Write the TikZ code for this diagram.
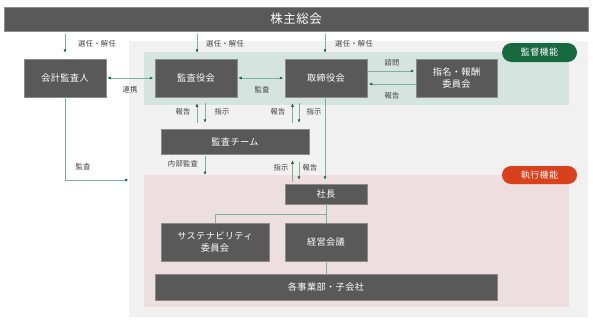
\documentclass[tikz,border=0pt]{standalone}
\usepackage{fontspec}
\setmainfont{Noto Sans CJK JP}[LetterSpace=4]
\usetikzlibrary{arrows.meta,calc}
\definecolor{boxgray}{HTML}{595959}
\definecolor{boxedge}{HTML}{8C8C8C}
\definecolor{linegreen}{HTML}{7FB09C}
\definecolor{tipgreen}{HTML}{1E6B4A}
\definecolor{regiongray}{HTML}{F1F1F1}
\definecolor{regiongreen}{HTML}{D6E4DF}
\definecolor{regionred}{HTML}{EDDEDF}
\definecolor{pillgreen}{HTML}{17693F}
\definecolor{pillred}{HTML}{D9401C}
\definecolor{labelgray}{HTML}{404040}
\tikzset{
  box/.style={fill=boxgray, draw=boxedge, line width=0.5pt, text=white,
    font=\fontsize{9.2}{12}\selectfont, inner sep=0pt, align=center,
    minimum width=82pt, minimum height=38pt},
  pill/.style={text=white, font=\fontsize{9}{11}\selectfont, inner sep=0pt,
    minimum width=75pt, minimum height=19pt, rounded corners=9.5pt},
  lbl/.style={text=labelgray, font=\fontsize{7.3}{8}\selectfont, inner sep=0pt},
  ln/.style={draw=linegreen, line width=0.8pt},
  arr/.style={ln, -{Latex[length=3.5pt,width=3.2pt,color=tipgreen]}},
  arrtwo/.style={ln, {Latex[length=3.5pt,width=3.2pt,color=tipgreen]}-{Latex[length=3.5pt,width=3.2pt,color=tipgreen]}}
}
\begin{document}
\begin{tikzpicture}[x=1pt,y=-1pt]
\useasboundingbox (0,0) rectangle (593,322);
% regions
\fill[regiongray] (129,41) rectangle (588,317);
\fill[regiongreen] (144,52) rectangle (569,105);
\fill[regionred] (144,175) rectangle (569,307);
\coordinate (redtop) at (144,175);
\coordinate (audit) at (129,180);
% helper x positions
\coordinate (ux1) at (197,0);
\coordinate (dx1) at (205,0);
\coordinate (ux2) at (292.5,0);
\coordinate (dx2) at (299,0);
\coordinate (lx) at (325,0);
\coordinate (branch) at (326,214);
% boxes
\node[box, minimum width=584pt, minimum height=24pt, font=\fontsize{12.5}{14}\selectfont] (top) at (296,19) {株主総会};
\node[box] (kaikei) at (65,78) {会計監査人};
\node[box] (kansa) at (196,78) {監査役会};
\node[box] (tori) at (326,78) {取締役会};
\node[box, minimum width=81pt] (shimei) at (456.5,78) {指名・報酬\\委員会};
\node[box, minimum width=148pt, minimum height=25pt] (team) at (235,141.5) {監査チーム};
\node[box, minimum height=20pt] (shacho) at (326,194) {社長};
\node[box, minimum width=108pt] (sus) at (215,242) {サステナビリティ\\委員会};
\node[box] (keiei) at (326,242) {経営会議};
\node[box, minimum width=342pt, minimum height=26pt] (jigyo) at (326,287) {各事業部・子会社};
% pills
\node[pill, fill=pillgreen] (kantoku) at (539.5,52.5) {監督機能};
\node[pill, fill=pillred, minimum height=18pt, rounded corners=9pt] (shikko) at (539.5,175) {執行機能};
% top arrows
\draw[arr, shorten <=3pt, shorten >=6pt] (top.south -| kaikei.north) -- (kaikei.north);
\draw[arr, shorten <=3pt, shorten >=6pt] (top.south -| ux1) -- (kansa.north -| ux1);
\draw[arr, shorten <=3pt, shorten >=6pt] (top.south -| lx) -- (tori.north -| lx);
\node[lbl] (l1) at (97,44) {選任・解任};
\node[lbl] (l2) at (225,44) {選任・解任};
\node[lbl] (l3) at (354,44) {選任・解任};
% horizontal links
\draw[arrtwo, shorten <=1pt, shorten >=1.5pt] (kaikei.east) -- (kansa.west);
\node[lbl] (l4) at (130,90) {連携};
\draw[arrtwo, shorten <=1pt, shorten >=1.5pt] (kansa.east) -- (tori.west);
\node[lbl] (l5) at (262,90) {監査};
\draw[arr, shorten >=1.5pt] ($(tori.east)+(0,-7)$) -- ($(shimei.west)+(0,-7)$);
\node[lbl] (l6) at (392,63) {諮問};
\draw[arr, shorten >=1.5pt] ($(shimei.west)+(0,6)$) -- ($(tori.east)+(0,6)$);
\node[lbl] (l7) at (392,96) {報告};
% kansa / team
\draw[arr, shorten <=6pt, shorten >=6pt] (team.north -| ux1) -- (kansa.south -| ux1);
\draw[arr, shorten <=6pt, shorten >=6pt] (kansa.south -| dx1) -- (team.north -| dx1);
\node[lbl] (l8) at (183,112) {報告};
\node[lbl] (l9) at (222,112) {指示};
% tori / team
\draw[arr, shorten <=6pt, shorten >=6pt] (team.north -| ux2) -- (tori.south -| ux2);
\draw[arr, shorten <=6pt, shorten >=6pt] (tori.south -| dx2) -- (team.north -| dx2);
\node[lbl] (l10) at (278,112) {報告};
\node[lbl] (l11) at (314,112) {指示};
% internal audit
\draw[arr, shorten <=2pt] (team.south -| dx1) -- (dx1 |- redtop);
\node[lbl] (l12) at (183,164) {内部監査};
% external audit
\draw[arr, shorten >=0.5pt] (kaikei.south) |- (audit);
\node[lbl] (l13) at (83,167) {監査};
% team / shacho
\draw[arr, shorten <=2pt, shorten >=6pt] (shacho.north -| ux2) -- (team.south -| ux2);
\draw[arr, shorten <=8pt, shorten >=4pt] (team.south -| dx2) -- (shacho.north -| dx2);
\node[lbl] (l14) at (281,168) {指示};
\node[lbl] (l15) at (310,168) {報告};
% tori -> shacho
\draw[arr, shorten >=4pt] (tori.south -| lx) -- (shacho.north -| lx);
% tree
\draw[ln] (shacho.south) -- (keiei.north);
\draw[ln] (branch) -| (sus.north);
\draw[ln] (keiei.south) -- (jigyo.north);
\end{tikzpicture}
\end{document}
